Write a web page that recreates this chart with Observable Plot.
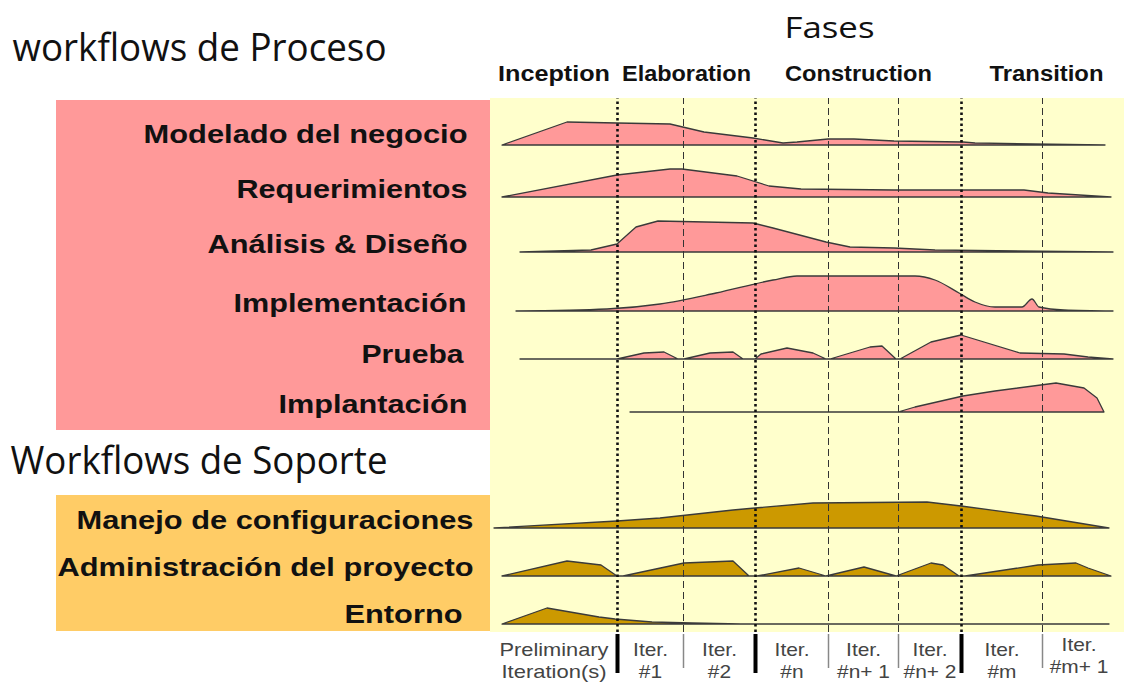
<!DOCTYPE html>
<html>
<head>
<meta charset="utf-8">
<script src="https://cdn.jsdelivr.net/npm/d3@7"></script>
<script src="https://cdn.jsdelivr.net/npm/@observablehq/plot@0.6"></script>
<style>
  html, body { margin: 0; padding: 0; background: #fff; overflow: hidden; }
  #chart { width: 1124px; height: 686px; }
</style>
</head>
<body>
<div id="chart"></div>
<script>
// ---------------- DATA ----------------
const headingProcess = "workflows de Proceso";
const headingSupport = "Workflows de Soporte";
const headingPhases = "Fases";
const phases = ["Inception", "Elaboration", "Construction", "Transition"];
const processWorkflows = ["Modelado del negocio", "Requerimientos", "Análisis & Diseño", "Implementación", "Prueba", "Implantación"];
const supportWorkflows = ["Manejo de configuraciones", "Administración del proyecto", "Entorno"];
const iterationLine1 = ["Preliminary", "Iter.", "Iter.", "Iter.", "Iter.", "Iter.", "Iter.", "Iter."];
const iterationLine2 = ["Iteration(s)", "#1", "#2", "#n", "#n+ 1", "#n+ 2", "#m", "#m+ 1"];

// time axis: iteration boundaries (project start ... end)
const iterationBounds = [0, 127, 193, 265, 338, 408, 471, 552, 625];
const phaseBounds = [0, 127, 265, 471, 625];

// effort curves: [time, effort]
const modeladoNegocio = [[12,0],[77,23],[127,22],[180,21],[214,13],[263,7],[293,2],[307,3],[338,6],[364,6],[404,4],[473,3],[485,2],[615,0]];
const requerimientos = [[12,0],[127,22],[180,28],[192,28],[247,21],[279,11],[311,8],[404,7],[471,7],[534,7],[558,4],[621,0]];
const analisisDiseno = [[30,0],[101,2],[127,8],[146,25],[168,31],[263,29],[283,24],[336,10],[360,5],[404,4],[445,2],[623,0]];
const implementacion = [[26,0],[117,2],[170,7],[226,18],[283,31],[307,35],[425,35],[445,31],[469,18],[485,9],[505,4],[532,4],[542,12],[549,4],[574,1],[623,0]];
const prueba = [[30,0],[127,0],[154,6],[174,7],[188,0],[194,0],[220,6],[243,7],[253,0],[265,0],[271,5],[297,11],[323,6],[336,0],[340,0],[380,12],[392,13],[406,0],[410,0],[441,17],[471,24],[530,6],[574,5],[598,2],[623,0]];
const implantacion = [[140,0],[408,0],[425,5],[473,16],[505,21],[566,29],[594,24],[607,14],[614,0]];
const manejoConfig = [[4,0],[127,7],[170,10],[243,18],[265,20],[323,25],[437,26],[471,22],[546,12],[619,0]];
const administracion = [[12,0],[77,15],[111,11],[127,0],[133,0],[194,13],[243,15],[259,0],[267,0],[309,8],[336,0],[374,9],[406,0],[441,13],[453,11],[469,0],[475,0],[548,11],[586,13],[598,8],[621,0]];
const entorno = [[12,0],[57,16],[109,7],[125,5],[162,2],[202,1],[251,0],[619,0]];

// ---------------- LAYOUT / STYLE ----------------
const PINK = "#ff9999", ORANGE = "#ffcc66", YELLOW = "#ffffcc", GOLD = "#cc9900", INK = "#3a3a3a";
const laneBase = [487, 435, 380, 321, 273, 220, 104, 56, 8];
const labelY = [498, 443, 388, 329, 278, 228, 112, 65, 18];
const labelX = [-23, -23, -23, -24, -27, -23, -17, -17, -28];
const curves = ["linear", "linear", "linear", "monotone-x", "linear", "linear", "linear", "linear", "linear"];
const effortSeries = [modeladoNegocio, requerimientos, analisisDiseno, implementacion, prueba, implantacion, manejoConfig, administracion, entorno];
const allWorkflows = [...processWorkflows, ...supportWorkflows];
const panels = [
  {x1: 0, x2: 634, y1: 0, y2: 534, fill: YELLOW},
  {x1: -434, x2: 0, y1: 202, y2: 532, fill: PINK},
  {x1: -434, x2: 0, y1: 1, y2: 137, fill: ORANGE}
];
const targetWidths = new Map([
  [headingProcess, 374], [headingSupport, 377], [headingPhases, 90],
  ["Inception", 112], ["Elaboration", 129], ["Construction", 147], ["Transition", 114],
  ["Modelado del negocio", 324], ["Requerimientos", 231], ["Análisis & Diseño", 260],
  ["Implementación", 233], ["Prueba", 102], ["Implantación", 189],
  ["Manejo de configuraciones", 397], ["Administración del proyecto", 416], ["Entorno", 118],
  ["Preliminary", 109], ["Iteration(s)", 105]
]);
const iterDy = [0, 0, 0, 0, 0, 0, 0, 5];

const mids = b => d3.range(b.length - 1).map(i => (b[i] + b[i + 1]) / 2);
const phaseMid = mids(phaseBounds);
const iterMid = mids(iterationBounds);
const innerPhase = phaseBounds.slice(1, -1);
const innerIter = iterationBounds.slice(1, -1).filter(b => !innerPhase.includes(b));

const boldFont = "Liberation Sans, Arial, Helvetica, sans-serif";
const humanFont = "Open Sans, Noto Sans, sans-serif";

const marks = [];
// background panels
panels.forEach(p => marks.push(Plot.rect([p], {x1: "x1", x2: "x2", y1: "y1", y2: "y2", fill: p.fill})));
// effort humps
effortSeries.forEach((s, i) => {
  marks.push(Plot.areaY(s, {
    x: d => d[0],
    y1: () => laneBase[i],
    y2: d => laneBase[i] + d[1],
    fill: i < processWorkflows.length ? PINK : GOLD,
    stroke: INK, strokeWidth: 1.3, strokeLinejoin: "round",
    curve: curves[i]
  }));
});
// phase & iteration dividers in the chart area
marks.push(Plot.ruleX(innerPhase, {y1: 0, y2: 534, stroke: "#111", strokeWidth: 2.6, strokeDasharray: "2.5 3"}));
marks.push(Plot.ruleX(innerIter, {y1: 0, y2: 534, stroke: "#333", strokeWidth: 1, strokeDasharray: "7 4"}));
// dividers in the iteration label strip
marks.push(Plot.ruleX(innerPhase, {y1: -41, y2: -2, stroke: "#000", strokeWidth: 4}));
marks.push(Plot.ruleX(innerIter, {y1: -36, y2: -2, stroke: "#888", strokeWidth: 1.5}));
// workflow labels
marks.push(Plot.text(allWorkflows, {
  x: (d, i) => labelX[i], y: (d, i) => labelY[i], text: d => d,
  textAnchor: "end", fontSize: 26, fontWeight: "bold", fontFamily: boldFont, fill: "#111"
}));
// phase labels
marks.push(Plot.text(phases, {
  x: (d, i) => phaseMid[i] + (i === 3 ? 8 : 0), y: 559, text: d => d,
  fontSize: 22, fontWeight: "bold", fontFamily: boldFont, fill: "#111"
}));
// headings
marks.push(Plot.text([headingProcess], {x: -478, y: 584, text: d => d, textAnchor: "start", fontSize: 38, fontFamily: humanFont, fill: "#111"}));
marks.push(Plot.text([headingSupport], {x: -480, y: 171, text: d => d, textAnchor: "start", fontSize: 38, fontFamily: humanFont, fill: "#111"}));
marks.push(Plot.text([headingPhases], {x: 339, y: 604, text: d => d, fontSize: 29, fontFamily: humanFont, fill: "#111"}));
// iteration labels
marks.push(Plot.text(iterationLine1, {x: (d, i) => iterMid[i], y: (d, i) => -17 + iterDy[i], text: d => d, fontSize: 19, fontFamily: boldFont, fill: "#444"}));
marks.push(Plot.text(iterationLine2, {x: (d, i) => iterMid[i], y: (d, i) => -39 + iterDy[i], text: d => d, fontSize: 19, fontFamily: boldFont, fill: "#444"}));

const chart = Plot.plot({
  width: 1124, height: 686,
  margin: 0,
  x: {domain: [-490, 634], axis: null},
  y: {domain: [-54, 632], axis: null},
  style: {background: "#fff", overflow: "visible"},
  marks
});
document.getElementById("chart").appendChild(chart);

// stretch texts horizontally to match the picture's proportions
const iterLabels = iterationLine1.concat(iterationLine2);
chart.querySelectorAll("text").forEach(t => {
  const key = t.textContent;
  if (targetWidths.has(key)) {
    t.setAttribute("textLength", targetWidths.get(key));
    t.setAttribute("lengthAdjust", "spacingAndGlyphs");
  } else if (iterLabels.includes(key)) {
    const w = t.getComputedTextLength();
    if (w > 0) {
      t.setAttribute("textLength", (w * 1.1).toFixed(1));
      t.setAttribute("lengthAdjust", "spacingAndGlyphs");
    }
  }
});
</script>
</body>
</html>
